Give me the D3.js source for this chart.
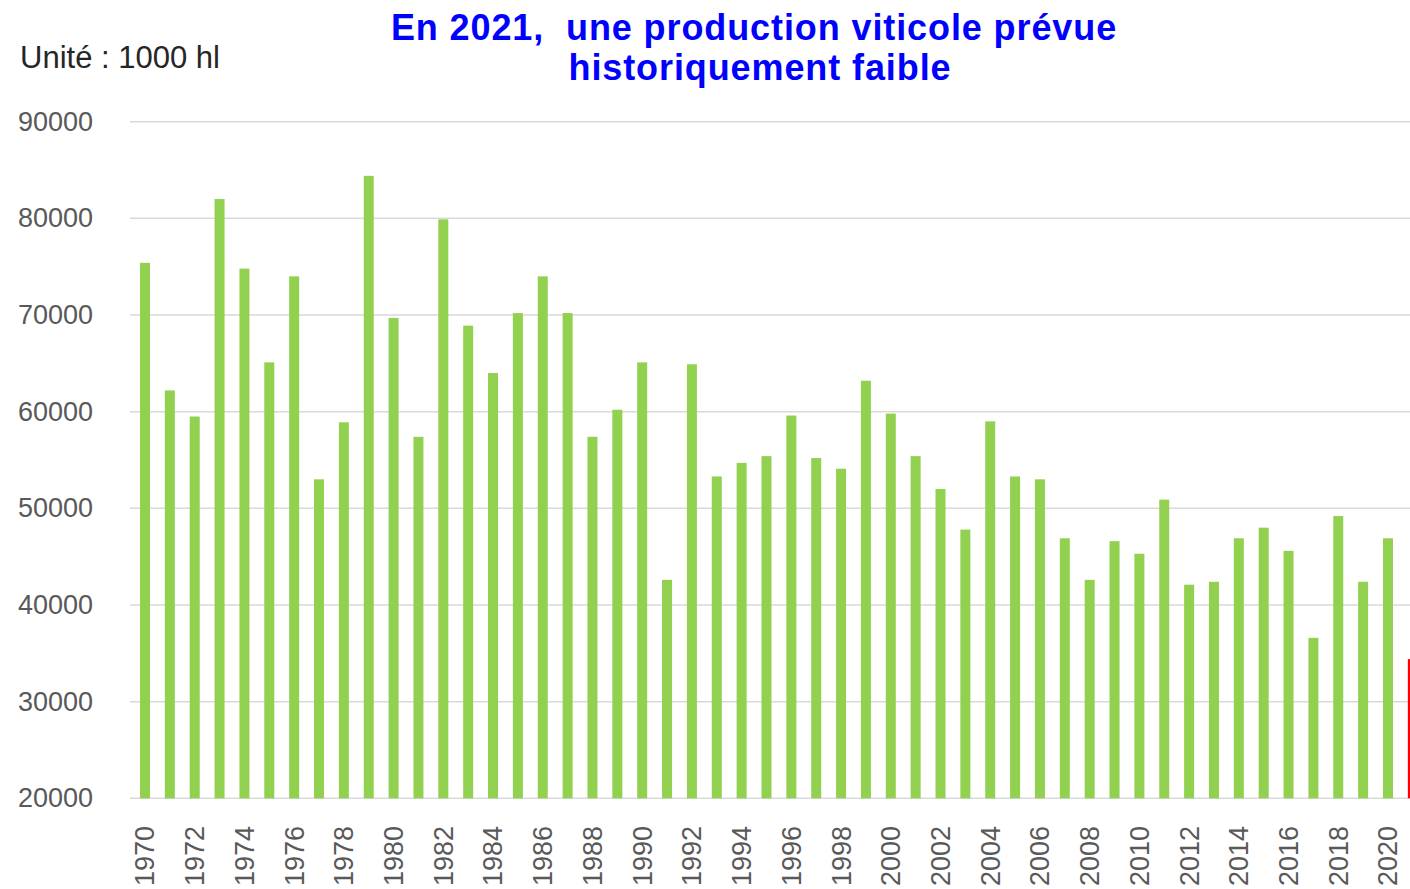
<!DOCTYPE html>
<html>
<head>
<meta charset="utf-8">
<script src="https://cdn.jsdelivr.net/npm/d3@7"></script>
<style>
  html, body { margin: 0; padding: 0; background: #fff; overflow: hidden; }
  svg { display: block; font-family: "Liberation Sans", Arial, sans-serif; }
</style>
</head>
<body>
<svg id="chart" width="1410" height="889"></svg>
<script>
const years = d3.range(1970, 2022);
const production = [
  75400, 62200, 59500, 82000, 74800, 65100, 74000, 53000, 58900, 84400,
  69700, 57400, 79900, 68900, 64000, 70200, 74000, 70200, 57400, 60200,
  65100, 42600, 64900, 53300, 54700, 55400, 59600, 55200, 54100, 63200,
  59800, 55400, 52000, 47800, 59000, 53300, 53000, 46900, 42600, 46600,
  45300, 50900, 42100, 42400, 46900, 48000, 45600, 36600, 49200, 42400,
  46900, 34400
];
const yTicks = [20000, 30000, 40000, 50000, 60000, 70000, 80000, 90000];
const xTickYears = years.filter(y => (y - 1970) % 2 === 0 && y <= 2020);
const titleLines = ["En 2021,  une production viticole prévue", "historiquement faible"];
const unitLabel = "Unité : 1000 hl";

const svg = d3.select("#chart");
const x0 = 130, step = 24.86;
const pInner = 0.598, pOuter = 0.402;
const x = d3.scaleBand()
  .domain(years)
  .range([x0, x0 + step * (years.length - pInner + 2 * pOuter)])
  .paddingInner(pInner)
  .paddingOuter(pOuter);
const y = d3.scaleLinear().domain([20000, 90000]).range([798.3, 121.7]);

// gridlines
svg.append("g").selectAll("line").data(yTicks).join("line")
  .attr("x1", x0).attr("x2", 1410)
  .attr("y1", d => y(d)).attr("y2", d => y(d))
  .attr("stroke", "#d9d9d9").attr("stroke-width", 1.5);

// y axis labels
const yAxis = d3.axisLeft(y).tickValues(yTicks).tickSize(0).tickPadding(0).tickFormat(d3.format("d"));
const gy = svg.append("g").attr("transform", "translate(93,0)").call(yAxis);
gy.select(".domain").remove();
gy.selectAll("text").attr("font-size", 27).attr("fill", "#595959")
  .attr("font-family", "Liberation Sans, Arial, sans-serif");

// bars
svg.append("g").selectAll("rect").data(years).join("rect")
  .attr("x", d => x(d))
  .attr("width", x.bandwidth())
  .attr("y", (d, i) => y(production[i]))
  .attr("height", (d, i) => y(20000) - y(production[i]))
  .attr("fill", d => d === 2021 ? "#ff0000" : "#92d050");

// x axis labels
const xAxis = d3.axisBottom(x).tickValues(xTickYears).tickSize(0).tickPadding(0);
const gx = svg.append("g").attr("transform", "translate(0,826)").call(xAxis);
gx.select(".domain").remove();
gx.selectAll("text")
  .attr("font-size", 27).attr("fill", "#595959")
  .attr("font-family", "Liberation Sans, Arial, sans-serif")
  .attr("transform", "rotate(-90)")
  .attr("text-anchor", "end")
  .attr("x", 0).attr("y", 0)
  .attr("dy", "0.35em");

// unit label
svg.append("text").attr("x", 20).attr("y", 68)
  .attr("font-size", 31).attr("fill", "#262626")
  .text(unitLabel);

// title
const titleX = [754, 760], titleY = [39.5, 80];
svg.append("g").selectAll("text").data(titleLines).join("text")
  .attr("x", (d, i) => titleX[i]).attr("y", (d, i) => titleY[i])
  .attr("text-anchor", "middle")
  .attr("font-size", 36).attr("font-weight", "bold").attr("fill", "#0000ff")
  .attr("letter-spacing", 0.9)
  .style("white-space", "pre")
  .text(d => d);
</script>
</body>
</html>
